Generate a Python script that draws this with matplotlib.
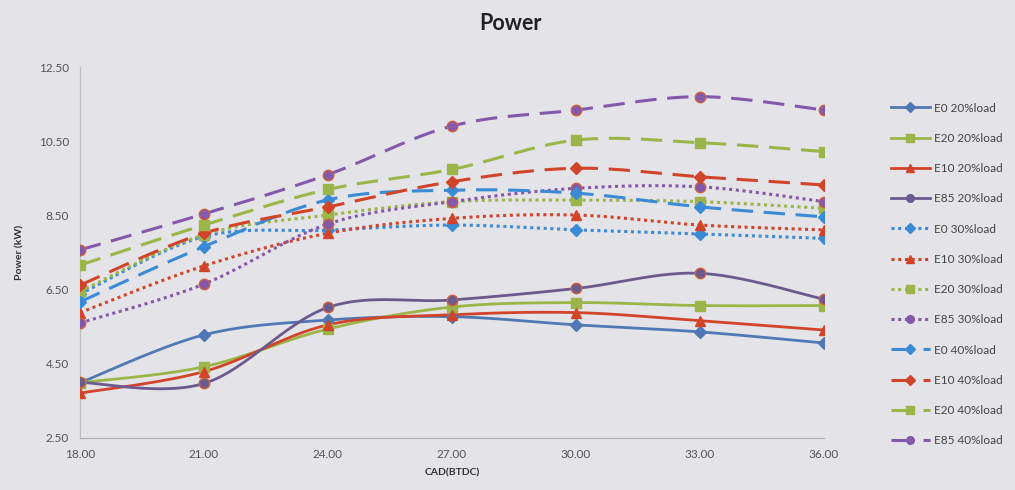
import numpy as np
import matplotlib
matplotlib.use("Agg")
import matplotlib.pyplot as plt
from matplotlib.lines import Line2D

plt.rcParams['font.family'] = ['Lato', 'DejaVu Sans']

# Crank angle (degrees BTDC)
cad = [18, 21, 24, 27, 30, 33, 36]
x_ticks = [18, 21, 24, 27, 30, 33, 36]
y_ticks = [2.5, 4.5, 6.5, 8.5, 10.5, 12.5]

# Brake power (kW) for each blend / load
e0_20 = [3.99, 5.28, 5.68, 5.77, 5.55, 5.36, 5.06]
e20_20 = [3.99, 4.42, 5.44, 6.03, 6.15, 6.07, 6.07]
e10_20 = [3.71, 4.29, 5.55, 5.82, 5.88, 5.66, 5.41]
e85_20 = [4.00, 3.97, 6.02, 6.22, 6.53, 6.94, 6.24]
e0_30 = [6.38, 7.93, 8.10, 8.24, 8.11, 8.00, 7.88]
e10_30 = [5.88, 7.14, 8.02, 8.42, 8.51, 8.24, 8.11]
e20_30 = [6.45, 7.98, 8.51, 8.87, 8.91, 8.87, 8.69]
e85_30 = [5.60, 6.65, 8.27, 8.87, 9.23, 9.27, 8.87]
e0_40 = [6.17, 7.66, 8.92, 9.18, 9.10, 8.73, 8.46]
e10_40 = [6.62, 8.02, 8.73, 9.41, 9.77, 9.54, 9.32]
e20_40 = [7.16, 8.24, 9.20, 9.74, 10.53, 10.46, 10.22]
e85_40 = [7.57, 8.54, 9.60, 10.91, 11.34, 11.70, 11.34]

BLUE_S, BLUE_L = '#4f78b4', '#3a8ad6'
RED = '#d2442a'
GREEN = '#9bb548'
PURPLE_S, PURPLE_L = '#6c5a8e', '#8458aa'

DOT = (0, (1.0, 1.2))
DASH = (0, (7, 3.5))

series = [
    ('E0 20%load', e0_20, BLUE_S, '-', 'D'),
    ('E20 20%load', e20_20, GREEN, '-', 's'),
    ('E10 20%load', e10_20, RED, '-', '^'),
    ('E85 20%load', e85_20, PURPLE_S, '-', 'o'),
    ('E0 30%load', e0_30, BLUE_L, DOT, 'D'),
    ('E10 30%load', e10_30, RED, DOT, '^'),
    ('E20 30%load', e20_30, GREEN, DOT, 's'),
    ('E85 30%load', e85_30, PURPLE_L, DOT, 'o'),
    ('E0 40%load', e0_40, BLUE_L, DASH, 'D'),
    ('E10 40%load', e10_40, RED, DASH, 'D'),
    ('E20 40%load', e20_40, GREEN, DASH, 's'),
    ('E85 40%load', e85_40, PURPLE_L, DASH, 'o'),
]


def smooth(xs, ys, n=30):
    """Catmull-Rom style Bezier smoothing through every data point."""
    xs = np.asarray(xs, float)
    ys = np.asarray(ys, float)
    px = np.concatenate([[xs[0]], xs, [xs[-1]]])
    py = np.concatenate([[ys[0]], ys, [ys[-1]]])
    outx, outy = [], []
    t = np.linspace(0, 1, n)
    for i in range(1, len(px) - 2):
        p0 = np.array([px[i], py[i]])
        p3 = np.array([px[i + 1], py[i + 1]])
        c1 = p0 + (np.array([px[i + 1], py[i + 1]]) - np.array([px[i - 1], py[i - 1]])) / 6
        c2 = p3 - (np.array([px[i + 2], py[i + 2]]) - np.array([px[i], py[i]])) / 6
        b = ((1 - t) ** 3)[:, None] * p0 + (3 * (1 - t) ** 2 * t)[:, None] * c1 \
            + (3 * (1 - t) * t ** 2)[:, None] * c2 + (t ** 3)[:, None] * p3
        outx.extend(b[:, 0])
        outy.extend(b[:, 1])
    return np.array(outx), np.array(outy)


BG = '#e3e3e8'
fig = plt.figure(figsize=(10.15, 4.9), dpi=100, facecolor=BG)
ax = fig.add_axes([80 / 1015, 1 - 438 / 490, (824 - 80) / 1015, (438 - 67) / 490])
ax.set_facecolor(BG)

handles = []
for name, vals, col, ls, mk in series:
    sx, sy = smooth(cad, vals)
    lw = 2.0 if ls == '-' else 2.2
    ax.plot(sx, sy, color=col, lw=lw, linestyle=ls, zorder=2)
    ms = 7.5 if mk in ('^', 'o') else 6.5
    ax.plot(cad, vals, linestyle='none', marker=mk, ms=ms, color=col,
            mec='#d0603a' if mk == 'o' else col, mew=1.0, zorder=3)
    handles.append(Line2D([0], [0], color=col, lw=lw, linestyle=ls,
                          marker=mk, ms=5.5, mec=col))

ax.set_xlim(18, 36)
ax.set_ylim(2.5, 12.5)
ax.set_xticks(x_ticks)
ax.set_xticklabels([f'{v:.2f}' for v in x_ticks])
ax.set_yticks(y_ticks)
ax.set_yticklabels([f'{v:.2f}' for v in y_ticks])
ax.tick_params(length=0, labelsize=8.5, colors='#555555', pad=8)
for s in ('top', 'right'):
    ax.spines[s].set_visible(False)
ax.spines['left'].set_color('#bdbdc2')
ax.spines['bottom'].set_color('#aeaeb4')
ax.spines['left'].set_linewidth(0.9)
ax.spines['bottom'].set_linewidth(0.9)

ax.set_ylabel('Power (kW)', fontsize=7.5, fontweight='bold', color='#333333', labelpad=10)
ax.set_xlabel('CAD(BTDC)', fontsize=7.5, fontweight='bold', color='#333333', labelpad=6)
fig.text(0.503, 1 - 23 / 490, 'Power', ha='center', va='center', fontsize=15.5,
         fontweight='bold', color='#222222')

leg = fig.legend(handles, [s[0] for s in series], loc='upper left',
                 bbox_to_anchor=(880 / 1015, 1 - 92 / 490), frameon=False,
                 fontsize=8.5, labelspacing=1.63, handlelength=3.3,
                 handletextpad=0.4, labelcolor='#444444')

fig.savefig('out.png', dpi=100, facecolor=BG)
